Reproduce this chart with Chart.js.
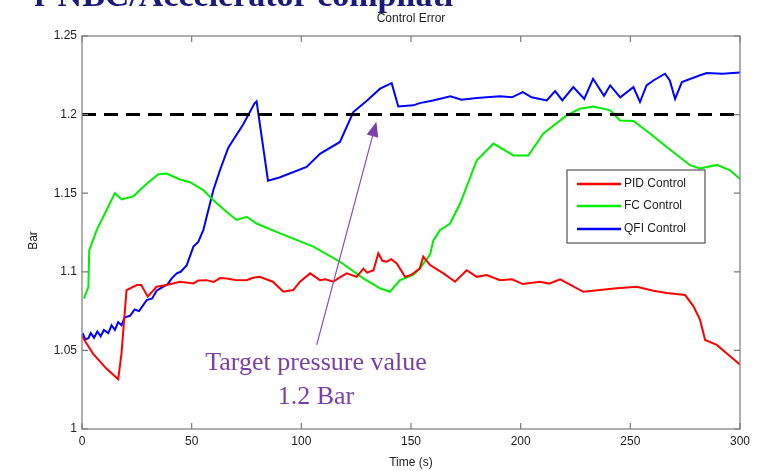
<!DOCTYPE html>
<html>
<head>
<meta charset="utf-8">
<script src="https://cdn.jsdelivr.net/npm/chart.js@4"></script>
<style>
  html, body { margin: 0; padding: 0; background: #fff; }
  #wrap { width: 764px; height: 471px; position: relative; }
</style>
</head>
<body>
<div id="wrap"><canvas id="chartCE" width="764" height="471"></canvas></div>
<script>
// === DATA ===
const seriesNames = ['PID Control', 'FC Control', 'QFI Control'];
const seriesColors = ['#ff0000', '#00ee00', '#0000ff'];

const pidTime = [0, 5, 11, 16.5, 18, 20.3, 25, 27, 30, 34, 38.6, 44.7, 50.8, 53, 56.8, 60, 63, 66, 70, 75, 78, 81, 87, 91.8, 96.3, 99.4, 104, 108.5, 111, 114.6, 117, 120.7, 125.2, 128.3, 130, 132.9, 135.1, 137, 139, 141, 143.5, 147.3, 150, 154, 155.6, 158.7, 164.8, 170.1, 175.4, 180, 184.5, 190.6, 196, 201, 208.8, 213, 218, 228.6, 236.2, 243.8, 252.9, 260.5, 266.6, 275, 278.8, 281.8, 284.1, 289.4, 294, 299.3, 300];
const pidValues = [1.059, 1.048, 1.0386, 1.0317, 1.048, 1.0884, 1.0916, 1.0916, 1.0842, 1.0905, 1.0916, 1.0937, 1.0926, 1.0945, 1.0947, 1.0935, 1.096, 1.0958, 1.0948, 1.0947, 1.0962, 1.0968, 1.0937, 1.0873, 1.0884, 1.0937, 1.099, 1.0947, 1.0952, 1.0937, 1.096, 1.099, 1.0968, 1.102, 1.0995, 1.101, 1.1117, 1.107, 1.1064, 1.108, 1.1053, 1.0968, 1.098, 1.102, 1.1096, 1.1043, 1.099, 1.0937, 1.101, 1.0968, 1.098, 1.0947, 1.0952, 1.0922, 1.0937, 1.0925, 1.0952, 1.0873, 1.0884, 1.0895, 1.0905, 1.088, 1.0865, 1.0852, 1.078, 1.0694, 1.0566, 1.0535, 1.048, 1.0418, 1.041];

const fcTime = [0.9, 2.9, 3.3, 6.7, 9.7, 15, 18.1, 23.4, 29.5, 34.8, 38.6, 44.7, 49.2, 55.3, 59.9, 66, 70.5, 75.1, 79.6, 90.3, 105.5, 117.6, 128.3, 135.9, 140.4, 145, 151, 154, 158.7, 160.2, 163.2, 167.8, 172.4, 180, 187.6, 196.7, 203.5, 210.4, 221, 227, 233.2, 240.8, 245.3, 251.4, 259, 266.6, 277.2, 281.8, 289.5, 295.5, 300];
const fcValues = [1.083, 1.0905, 1.1138, 1.1265, 1.135, 1.15, 1.146, 1.148, 1.156, 1.162, 1.1625, 1.1587, 1.157, 1.152, 1.1455, 1.138, 1.133, 1.135, 1.1307, 1.1244, 1.116, 1.1064, 1.0958, 1.0895, 1.0873, 1.0947, 1.098, 1.102, 1.111, 1.12, 1.1265, 1.1307, 1.1434, 1.171, 1.1816, 1.174, 1.174, 1.188, 1.1995, 1.2037, 1.2052, 1.2027, 1.1963, 1.196, 1.188, 1.1794, 1.1678, 1.1657, 1.168, 1.1646, 1.159];

const qfiTime = [0.3, 1.5, 2.9, 4, 5.5, 7, 8.5, 10, 12, 13.5, 15, 16.5, 18, 19.5, 21.9, 24, 26, 29.5, 32, 34, 37.1, 39, 41, 43.2, 45, 47.7, 50.8, 53, 55.3, 59.9, 62.9, 66.7, 73.6, 78.6, 79.6, 84.8, 90, 102.4, 108.5, 117.6, 123.7, 130, 135.9, 141.2, 144.2, 151, 154, 160, 168, 173, 180, 190.6, 196, 201, 205, 211.9, 215.7, 219, 224, 229, 233, 238, 240.8, 245.4, 251.4, 254.4, 257.4, 260.5, 265.8, 268, 270.4, 273.5, 281.8, 284.9, 292, 300];
const qfiValues = [1.061, 1.057, 1.0577, 1.061, 1.058, 1.062, 1.059, 1.063, 1.061, 1.066, 1.063, 1.068, 1.066, 1.071, 1.072, 1.076, 1.075, 1.082, 1.083, 1.088, 1.0905, 1.092, 1.096, 1.099, 1.1, 1.104, 1.116, 1.119, 1.1265, 1.152, 1.1646, 1.179, 1.194, 1.207, 1.2084, 1.158, 1.16, 1.1667, 1.175, 1.1826, 1.2016, 1.209, 1.2165, 1.22, 1.2052, 1.2059, 1.2073, 1.209, 1.2116, 1.2095, 1.2105, 1.2116, 1.211, 1.2143, 1.211, 1.209, 1.215, 1.209, 1.2175, 1.21, 1.2228, 1.212, 1.2186, 1.211, 1.2175, 1.208, 1.2186, 1.2217, 1.226, 1.2217, 1.21, 1.2207, 1.225, 1.2264, 1.226, 1.2268];

const targetValue = 1.2;
const xTicks = [0, 50, 100, 150, 200, 250, 300];
const yTicks = [1, 1.05, 1.1, 1.15, 1.2, 1.25];
const yTickLabels = ['1', '1.05', '1.1', '1.15', '1.2', '1.25'];

// === UTILS ===
function toPoints(xs, ys) {
    return xs.map((x, i) => ({ x: x, y: ys[i] }));
}

const AXIS_FONT = '"Liberation Sans Narrow", "Liberation Sans", Arial, sans-serif';
const AXIS_COLOR = '#7a7a7a';

// === PLUGIN: frame, inner ticks, texts, legend, arrow ===
const decorPlugin = {
    id: 'decor',
    afterDraw(chart) {
        const c = chart.ctx;
        const area = chart.chartArea;
        const xs = chart.scales.x;
        const ys = chart.scales.y;
        c.save();

        // box
        c.strokeStyle = AXIS_COLOR;
        c.lineWidth = 1.2;
        c.strokeRect(area.left, area.top, area.right - area.left, area.bottom - area.top);

        // inner ticks
        c.beginPath();
        xTicks.forEach(t => {
            const px = xs.getPixelForValue(t);
            c.moveTo(px, area.bottom); c.lineTo(px, area.bottom - 6);
            c.moveTo(px, area.top); c.lineTo(px, area.top + 6);
        });
        yTicks.forEach(t => {
            const py = ys.getPixelForValue(t);
            c.moveTo(area.left, py); c.lineTo(area.left + 6, py);
            c.moveTo(area.right, py); c.lineTo(area.right - 6, py);
        });
        c.stroke();

        // cut-off heading at the very top
        c.fillStyle = '#1a1a7a';
        c.font = 'bold 34px "Liberation Serif", "DejaVu Serif", serif';
        c.textAlign = 'left';
        c.textBaseline = 'alphabetic';
        c.fillText('r NBC/Accelerator compilati', 34, 6);

        // title
        c.fillStyle = '#222';
        c.font = '12px ' + AXIS_FONT;
        c.textAlign = 'center';
        c.fillText('Control Error', (area.left + area.right) / 2, 22);

        // axis titles
        c.fillText('Time (s)', (area.left + area.right) / 2, 466);
        c.save();
        c.translate(37, (area.top + area.bottom) / 2 + 8);
        c.rotate(-Math.PI / 2);
        c.fillText('Bar', 0, 0);
        c.restore();

        // legend
        const lx = 567, ly = 170, lw = 138, lh = 73;
        c.fillStyle = '#fff';
        c.fillRect(lx, ly, lw, lh);
        c.strokeStyle = '#333';
        c.lineWidth = 1;
        c.strokeRect(lx, ly, lw, lh);
        const rowY = [184, 206, 229];
        seriesNames.forEach((name, i) => {
            c.strokeStyle = seriesColors[i];
            c.lineWidth = 2.5;
            c.beginPath();
            c.moveTo(lx + 10, rowY[i]); c.lineTo(lx + 54, rowY[i]);
            c.stroke();
            c.fillStyle = '#222';
            c.font = '12px ' + AXIS_FONT;
            c.textAlign = 'left';
            c.textBaseline = 'middle';
            c.fillText(name, lx + 57, rowY[i]);
        });

        // annotation arrow
        const tipX = xs.getPixelForValue(134.2), tipY = ys.getPixelForValue(1.1955);
        const tailX = xs.getPixelForValue(107), tailY = ys.getPixelForValue(1.0535);
        const ang = Math.atan2(tipY - tailY, tipX - tailX);
        c.strokeStyle = '#8a4fb0';
        c.fillStyle = '#7d3fa8';
        c.lineWidth = 1.2;
        c.beginPath();
        c.moveTo(tailX, tailY);
        c.lineTo(tipX - 10 * Math.cos(ang), tipY - 10 * Math.sin(ang));
        c.stroke();
        c.beginPath();
        c.moveTo(tipX, tipY);
        c.lineTo(tipX - 15 * Math.cos(ang) + 6 * Math.sin(ang), tipY - 15 * Math.sin(ang) - 6 * Math.cos(ang));
        c.lineTo(tipX - 15 * Math.cos(ang) - 6 * Math.sin(ang), tipY - 15 * Math.sin(ang) + 6 * Math.cos(ang));
        c.closePath();
        c.fill();

        // annotation text
        c.fillStyle = '#7a3fa6';
        c.font = '26px "Liberation Serif", "DejaVu Serif", serif';
        c.textAlign = 'center';
        c.textBaseline = 'alphabetic';
        c.fillText('Target pressure value', 316, 370);
        c.fillText('1.2 Bar', 316, 404);

        c.restore();
    }
};

// === CHART ===
const lineStyle = { borderWidth: 2, pointRadius: 0, tension: 0, fill: false };

new Chart(document.getElementById('chartCE'), {
    type: 'line',
    data: {
        datasets: [
            Object.assign({ label: 'Target', data: toPoints([0, 300], [targetValue, targetValue]),
                borderColor: '#000', borderDash: [14, 8] }, lineStyle, { borderWidth: 3 }),
            Object.assign({ label: seriesNames[0], data: toPoints(pidTime, pidValues), borderColor: seriesColors[0] }, lineStyle),
            Object.assign({ label: seriesNames[1], data: toPoints(fcTime, fcValues), borderColor: seriesColors[1] }, lineStyle),
            Object.assign({ label: seriesNames[2], data: toPoints(qfiTime, qfiValues), borderColor: seriesColors[2] }, lineStyle)
        ]
    },
    options: {
        responsive: false,
        animation: false,
        layout: { padding: { top: 36, right: 24, left: 0, bottom: 0 } },
        plugins: { legend: { display: false }, tooltip: { enabled: false } },
        scales: {
            x: {
                type: 'linear', min: 0, max: 300,
                afterBuildTicks: (s) => { s.ticks = xTicks.map(v => ({ value: v })); },
                afterFit: (s) => { s.height = 42; },
                grid: { display: false, drawTicks: false },
                border: { display: false },
                ticks: { color: '#222', font: { family: AXIS_FONT, size: 12 }, padding: 5, maxRotation: 0 }
            },
            y: {
                type: 'linear', min: 1, max: 1.25,
                afterBuildTicks: (s) => { s.ticks = yTicks.map(v => ({ value: v })); },
                afterFit: (s) => { s.width = 82; },
                grid: { display: false, drawTicks: false },
                border: { display: false },
                ticks: {
                    color: '#222', font: { family: AXIS_FONT, size: 12 }, padding: 5,
                    callback: (val) => yTickLabels[yTicks.findIndex(t => Math.abs(t - val) < 1e-6)]
                }
            }
        }
    },
    plugins: [decorPlugin]
});
</script>
</body>
</html>
